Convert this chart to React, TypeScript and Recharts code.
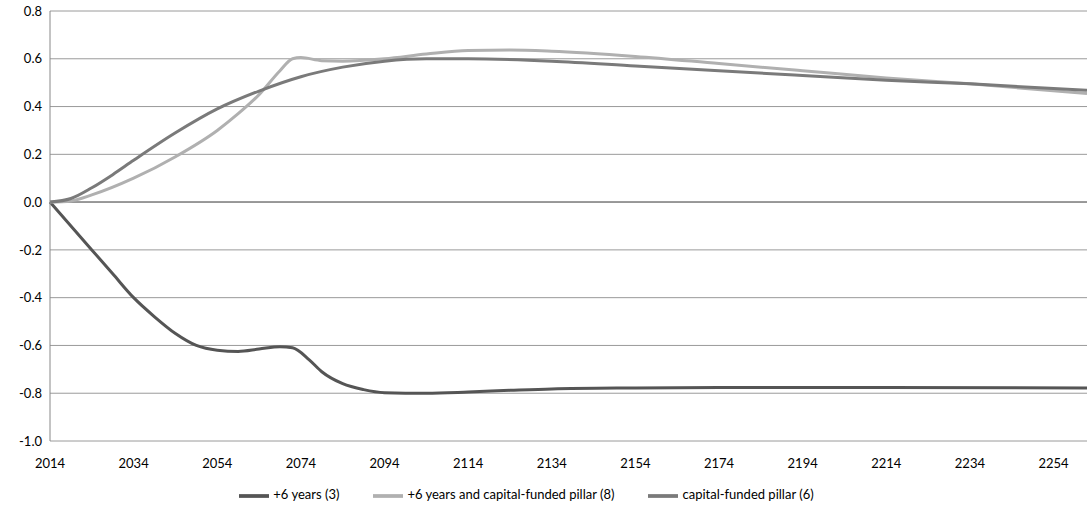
import { CartesianGrid, Legend, Line, LineChart, ReferenceLine, XAxis, YAxis } from 'recharts'

const years6 = [2014, 2019, 2024, 2029, 2034, 2039, 2044, 2049, 2054, 2059, 2064, 2069, 2072, 2076, 2079, 2084, 2089, 2094, 2099, 2104, 2114, 2124, 2134, 2154, 2174, 2214, 2262]
const plus6 = [0, -0.1, -0.2, -0.3, -0.4, -0.48, -0.55, -0.6, -0.62, -0.625, -0.615, -0.605, -0.61, -0.66, -0.71, -0.76, -0.785, -0.798, -0.8, -0.8, -0.795, -0.788, -0.782, -0.778, -0.776, -0.776, -0.778]

const yearsMix = [2014, 2019, 2024, 2034, 2044, 2054, 2059, 2064, 2069, 2072, 2074, 2079, 2084, 2094, 2104, 2114, 2124, 2134, 2154, 2174, 2194, 2214, 2234, 2262]
const plus6Pillar = [0, 0.005, 0.03, 0.1, 0.19, 0.3, 0.37, 0.45, 0.55, 0.6, 0.605, 0.592, 0.59, 0.6, 0.62, 0.635, 0.637, 0.632, 0.61, 0.58, 0.55, 0.52, 0.495, 0.455]

const yearsPillar = [2014, 2019, 2024, 2029, 2034, 2044, 2054, 2064, 2074, 2084, 2094, 2104, 2114, 2134, 2154, 2174, 2194, 2214, 2234, 2262]
const pillar = [0, 0.015, 0.06, 0.115, 0.175, 0.29, 0.39, 0.465, 0.525, 0.565, 0.59, 0.6, 0.6, 0.59, 0.57, 0.55, 0.53, 0.51, 0.495, 0.468]

const xTicks = [2014, 2034, 2054, 2074, 2094, 2114, 2134, 2154, 2174, 2194, 2214, 2234, 2254]
const yTicks = [-1, -0.8, -0.6, -0.4, -0.2, 0, 0.2, 0.4, 0.6, 0.8]

const zip = (xs: number[], vs: number[]) => xs.map((year, i) => ({ year, value: vs[i] }))

const tick = { fontSize: 13, fill: '#000', fontFamily: 'Lato' }

export default function App() {
  return (
    <div style={{ position: 'absolute', left: 0, top: 0, background: '#fff' }}>
      <LineChart width={1087} height={510} margin={{ top: 11, right: 0, left: 0, bottom: 0 }}>
        <CartesianGrid stroke="#9a9a9a" vertical={false} />
        <XAxis
          dataKey="year"
          type="number"
          domain={[2014, 2262]}
          ticks={xTicks}
          allowDuplicatedCategory={false}
          tick={tick}
          tickLine={false}
          axisLine={false}
          height={40}
          tickMargin={12}
          interval={0}
        />
        <YAxis
          domain={[-1, 0.8]}
          ticks={yTicks}
          tickFormatter={(v: number) => v.toFixed(1)}
          tick={tick}
          tickLine={false}
          axisLine={{ stroke: '#888' }}
          width={50}
          interval={0}
        />
        <ReferenceLine y={0} stroke="#888" strokeWidth={1.5} />
        <Legend
          verticalAlign="bottom"
          height={29}
          iconType="plainline"
          iconSize={30}
          wrapperStyle={{ fontSize: 13, fontFamily: 'Lato', color: '#000' }}
          formatter={(v: string) => <span style={{ color: '#000', marginRight: 24 }}>{v}</span>}
        />
        <Line data={zip(years6, plus6)} dataKey="value" name="+6 years (3)" type="monotone" stroke="#555" strokeWidth={3} dot={false} isAnimationActive={false} />
        <Line data={zip(yearsMix, plus6Pillar)} dataKey="value" name="+6 years and capital-funded pillar (8)" type="monotone" stroke="#b0b0b0" strokeWidth={3} dot={false} isAnimationActive={false} />
        <Line data={zip(yearsPillar, pillar)} dataKey="value" name="capital-funded pillar (6)" type="monotone" stroke="#7a7a7a" strokeWidth={3} dot={false} isAnimationActive={false} />
      </LineChart>
    </div>
  )
}
